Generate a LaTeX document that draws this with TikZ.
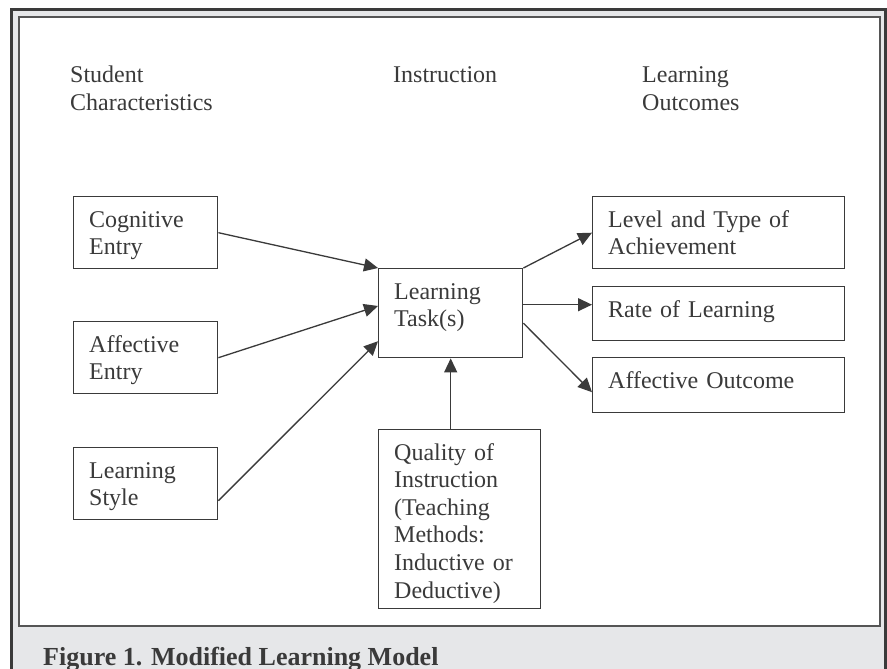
\documentclass[tikz,border=0pt]{standalone}
\usepackage{fontspec}
\setmainfont{Liberation Serif}
\usepackage{tikz}
\usetikzlibrary{positioning}
\usetikzlibrary{calc}
\usetikzlibrary{arrows.meta}
\definecolor{framegray}{HTML}{E6E7E9}
\definecolor{inkgray}{HTML}{3A3A3A}
\definecolor{edgegray}{HTML}{555555}
\tikzset{
	block/.style={
		draw=inkgray, line width=1.4pt, anchor=north west, inner sep=0pt, fill=white
	},
	block text/.style={
		anchor=base west, inner sep=0pt, align=left, text width=#1,
		font=\fontsize{24}{27.6}\selectfont, text=inkgray
	},
	block text/.default=230pt,
	link/.style={
		draw=inkgray, line width=1.3pt, -{Triangle[length=14pt,width=13pt]}
	}
}
% text sits at the top left of its box
\def\blocklabel#1#2{\node[block text, name=#1-text] at ($(#1.north west)+(16,31)$) {#2};}

\begin{document}
\begin{tikzpicture}[x=1pt, y=-1pt]
	\useasboundingbox (0,0) rectangle (887,669);
	\clip (0,0) rectangle (887,669);

	% frame and caption band
	\draw[draw=inkgray, line width=3pt, fill=framegray] (11,10) rectangle (885.5,700);
	\draw[edgegray, line width=2pt, fill=white] (19,17) rectangle (880,626);
	\node[anchor=base west, inner sep=0pt, text=inkgray, font=\fontsize{26}{30}\selectfont\bfseries] (caption) at (43,665) {Figure 1. Modified Learning Model};

	% column headings
	\node[block text] (head-student) at (70,83) {Student\\Characteristics};
	\node[block text] (head-instr) at (393,83) {Instruction};
	\node[block text] (head-outc) at (642,83) {Learning\\Outcomes};

	% student characteristics
	\foreach \name/\top/\txt in {cogn/196/{Cognitive\\Entry}, affe/321/{Affective\\Entry}, lstyle/447/{Learning\\Style}}{
		\node[block, minimum width=144pt, minimum height=72pt] (\name) at (73,\top) {};
		\blocklabel{\name}{\txt}
	}

	% instruction
	\node[block, minimum width=144pt, minimum height=89pt] (task) at (378,268) {};
	\blocklabel{task}{Learning\\Task(s)}
	\node[block, minimum width=162pt, minimum height=179pt] (qual) at (378,429) {};
	\blocklabel{qual}{Quality of\\Instruction\\(Teaching\\Methods:\\Inductive or\\Deductive)}

	% learning outcomes
	\node[block, minimum width=252pt, minimum height=72pt] (level) at (592,196) {};
	\blocklabel{level}{Level and Type of\\Achievement}
	\node[block, minimum width=252pt, minimum height=54pt] (rate) at (592,286) {};
	\blocklabel{rate}{Rate of Learning}
	\node[block, minimum width=252pt, minimum height=55pt] (outc) at (592,357) {};
	\blocklabel{outc}{Affective Outcome}

	% links
	\coordinate (rate-in) at ([yshift=9pt]rate.west);
	\draw[link] (cogn.east) -- (task.north west);
	\draw[link] (affe.east) -- ($(task.north west)!0.42!(task.south west)$);
	\draw[link] ([yshift=-17pt]lstyle.east) -- ($(task.north west)!0.81!(task.south west)$);
	\draw[link] (qual.north -| task.south) -- (task.south);
	\draw[link] (task.north east) -- (level.west);
	\draw[link] (task.east |- rate-in) -- (rate-in);
	\draw[link] ([yshift=-10pt]task.east) -- ([yshift=-7pt]outc.west);
\end{tikzpicture}
\end{document}
